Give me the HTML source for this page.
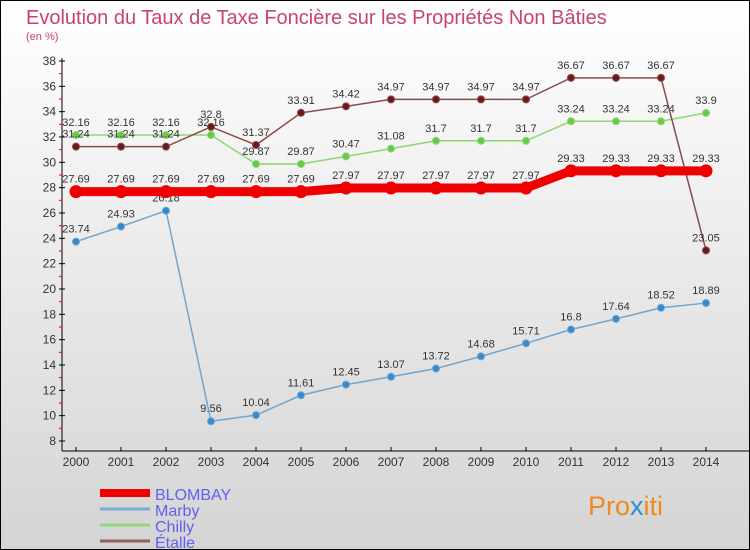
<!DOCTYPE html>
<html><head><meta charset="utf-8"><style>
body{margin:0}
#wrap{width:750px;height:550px;position:relative;box-sizing:border-box;border:1px solid #000;background:linear-gradient(#ffffff,#d4d4d4);font-family:"Liberation Sans",sans-serif;overflow:hidden}
</style></head><body>
<div id="wrap">
<svg id="svg" width="750" height="550" style="position:absolute;left:-1px;top:-1px">
<text x="26" y="24" font-size="20" fill="#c8446e">Evolution du Taux de Taxe Foncière sur les Propriétés Non Bâties</text>
<text x="26" y="40" font-size="11" fill="#c8446e">(en %)</text>
<g id="axes"></g><g id="series"></g>
<text x="588" y="515" font-size="27" fill="#f08a1c">Pro<tspan fill="#2a90d0">x</tspan>iti</text>
</svg>
</div>
<script>
const years=[2000,2001,2002,2003,2004,2005,2006,2007,2008,2009,2010,2011,2012,2013,2014];
const yTicks=[8,10,12,14,16,18,20,22,24,26,28,30,32,34,36,38];
const blombay=[27.69,27.69,27.69,27.69,27.69,27.69,27.97,27.97,27.97,27.97,27.97,29.33,29.33,29.33,29.33];
const marby=[23.74,24.93,26.18,9.56,10.04,11.61,12.45,13.07,13.72,14.68,15.71,16.8,17.64,18.52,18.89];
const chilly=[32.16,32.16,32.16,32.16,29.87,29.87,30.47,31.08,31.7,31.7,31.7,33.24,33.24,33.24,33.9];
const etalle=[31.24,31.24,31.24,32.8,31.37,33.91,34.42,34.97,34.97,34.97,34.97,36.67,36.67,36.67,23.05];
const seriesNames=["BLOMBAY","Marby","Chilly","Étalle"];
const NS="http://www.w3.org/2000/svg";
const X=i=>76+i*45, Y=v=>441-(v-8)*(380/30);
function mk(tag,at,parent){const e=document.createElementNS(NS,tag);for(const k in at)e.setAttribute(k,at[k]);parent.appendChild(e);return e;}
const ax=document.getElementById('axes'), sg=document.getElementById('series');
let l=mk('line',{x1:62,y1:58,x2:62,y2:451,stroke:'#000'},ax);


l=mk('line',{x1:62,y1:451,x2:750,y2:451,stroke:'#000'},ax);


yTicks.forEach(v=>{
 mk('line',{x1:59,y1:Y(v),x2:65,y2:Y(v),stroke:'#000'},ax);
 if(v<38) mk('line',{x1:59,y1:Y(v+1),x2:62,y2:Y(v+1),stroke:'#e00'},ax);
 const t=mk('text',{x:56,y:Y(v)+4,'font-size':12,'text-anchor':'end',fill:'#333'},ax);t.textContent=v;
 
 
});
years.forEach((y,i)=>{
 mk('line',{x1:X(i),y1:447,x2:X(i),y2:451,stroke:'#000'},ax);
 const t=mk('text',{x:X(i),y:466,'font-size':12,'text-anchor':'middle',fill:'#333'},ax);t.textContent=y;
 
 
});
function draw(vals,color,dot,w,r,name){
 const g=mk('g',{},sg);
 
 
 mk('polyline',{points:vals.map((v,i)=>X(i)+','+Y(v)).join(' '),fill:'none',stroke:color,'stroke-width':w},g);
 vals.forEach((v,i)=>{
  const c=mk('circle',{cx:X(i),cy:Y(v),r:r,fill:dot,stroke:color},g);
  
  
  const t=mk('text',{x:X(i),y:Y(v)-9,'font-size':11,'text-anchor':'middle',fill:'#333'},g);t.textContent=String(v);
  
  
 });
}
draw(marby,'#6ea6d0','#3a88c8',1.5,3.5,'marby');
draw(chilly,'#8cd870','#6ac848',1.5,3.5,'chilly');
draw(etalle,'#8a4a4a','#6a1a1a',1.5,3.5,'etalle');
draw(blombay,'#ee0000','#ee0000',9,6,'blombay');
const lc=['#ee0000','#7aaed0','#90d878','#906060'], lw=[8,3,3,3];
seriesNames.forEach((n,i)=>{
 const y=493+i*16;
 const ln=mk('line',{x1:100,y1:y,x2:150,y2:y,stroke:lc[i],'stroke-width':lw[i]},sg);
 
 
 const t=mk('text',{x:155,y:y+7,'font-size':16,fill:'#6060f0'},sg);t.textContent=n;
 
 
});
</script>
</body></html>
